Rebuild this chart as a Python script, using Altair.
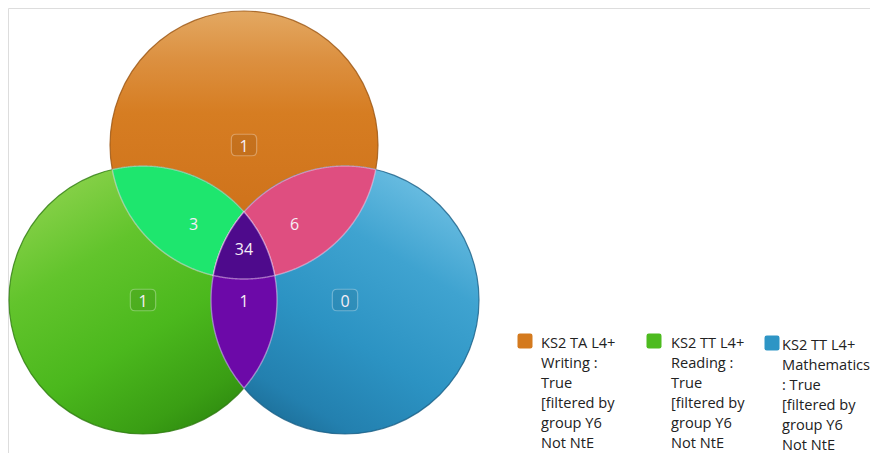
import math
import itertools
import pandas as pd
import altair as alt

# ---------------- data ----------------
set_keys = ["W", "R", "M"]
legend_labels = [
    "KS2 TA L4+\nWriting :\nTrue\n[filtered by\ngroup Y6\nNot NtE",
    "KS2 TT L4+\nReading :\nTrue\n[filtered by\ngroup Y6\nNot NtE",
    "KS2 TT L4+\nMathematics\n : True\n[filtered by\ngroup Y6\nNot NtE",
]
set_colors = ["#D47A1E", "#4DBB1F", "#2E95C5"]
region_keys = ["W", "R", "M", "WR", "WM", "RM", "WRM"]
region_counts = [1, 1, 0, 3, 6, 1, 34]
overlap_keys = ["WR", "WM", "RM", "WRM"]
overlap_colors = ["#1EE66E", "#DF4E80", "#6C09A8", "#4E0A8C"]

# ---------------- layout (pixels) ----------------
W, H = 862, 445
circle_cx = [236, 135, 337]
circle_cy = [137, 292, 292]
circle_r = 134
circle_stops = [
    [("#E3A862", 0.0), ("#DC9040", 0.18), ("#D67D22", 0.38), ("#D0741C", 0.7), ("#BC6415", 1.0)],
    [("#8ED34E", 0.0), ("#62C42C", 0.3), ("#4BB81D", 0.6), ("#3A9E14", 0.85), ("#2B850E", 1.0)],
    [("#72C2E5", 0.0), ("#3FA3D0", 0.3), ("#2C93C3", 0.6), ("#2380AF", 0.85), ("#1A6890", 1.0)],
]
circle_grad_dir = [(0.5, 0.0, 0.5, 1.0), (0.2, 0.0, 0.8, 1.0), (0.8, 0.0, 0.2, 1.0)]
circle_edge = ["#9A5410", "#2E7A10", "#1A5F86"]
legend_sq_x = [517, 646, 764]
legend_sq_y = [333, 333, 335]
legend_tx_x = [533, 663, 774]
legend_tx_y = [328, 328, 330]

X = alt.X("x:Q", scale=alt.Scale(domain=[0, W], nice=False, zero=False), axis=None)
Y = alt.Y("y:Q", scale=alt.Scale(domain=[0, H], reverse=True, nice=False, zero=False), axis=None)


def inside(p, idx, tol=0.01):
    return all(math.hypot(p[0] - circle_cx[j], p[1] - circle_cy[j]) <= circle_r + tol for j in idx)


def circle_pair_points(a, b):
    x0, y0, x1, y1 = circle_cx[a], circle_cy[a], circle_cx[b], circle_cy[b]
    d = math.hypot(x1 - x0, y1 - y0)
    aa = d / 2
    h = math.sqrt(max(circle_r ** 2 - aa ** 2, 0))
    mx, my = x0 + aa * (x1 - x0) / d, y0 + aa * (y1 - y0) / d
    return [(mx + h * (y1 - y0) / d, my - h * (x1 - x0) / d),
            (mx - h * (y1 - y0) / d, my + h * (x1 - x0) / d)]


def region_polygon(idx, n=1440):
    pts = []
    for i in idx:
        others = [j for j in idx if j != i]
        for k in range(n):
            t = 2 * math.pi * k / n
            p = (circle_cx[i] + circle_r * math.cos(t), circle_cy[i] + circle_r * math.sin(t))
            if inside(p, others):
                pts.append(p)
    for a, b in itertools.combinations(idx, 2):
        for p in circle_pair_points(a, b):
            if inside(p, idx, tol=0.5):
                pts.append(p)
    mx = sum(p[0] for p in pts) / len(pts)
    my = sum(p[1] for p in pts) / len(pts)
    pts.sort(key=lambda p: math.atan2(p[1] - my, p[0] - mx))
    return pd.DataFrame({"x": [p[0] for p in pts], "y": [p[1] for p in pts], "i": range(len(pts))})


layers = []

# circles (vega symbol size is the area of the bounding square)
for i in range(3):
    gx1, gy1, gx2, gy2 = circle_grad_dir[i]
    grad = alt.Gradient(
        gradient="linear", x1=gx1, y1=gy1, x2=gx2, y2=gy2,
        stops=[alt.GradientStop(color=c, offset=o) for c, o in circle_stops[i]],
    )
    df = pd.DataFrame({"x": [circle_cx[i]], "y": [circle_cy[i]], "set": [set_keys[i]]})
    layers.append(
        alt.Chart(df).mark_circle(
            size=(2 * circle_r) ** 2, opacity=1, fill=grad,
            stroke=circle_edge[i], strokeWidth=1.2, strokeOpacity=0.8,
        ).encode(x=X, y=Y)
    )

# overlaps
for key, col in zip(overlap_keys, overlap_colors):
    idx = [set_keys.index(c) for c in key]
    df = region_polygon(idx)
    layers.append(
        alt.Chart(df).mark_line(
            interpolate="linear-closed", fill=col, fillOpacity=1,
            stroke="#F2D4F0", strokeOpacity=0.5, strokeWidth=1.4,
        ).encode(x=X, y=Y, order="i:Q")
    )

# labels
lab_x, lab_y = [], []
for key in region_keys:
    idx = [set_keys.index(c) for c in key]
    lab_x.append(sum(circle_cx[j] for j in idx) / len(idx))
    lab_y.append(sum(circle_cy[j] for j in idx) / len(idx))
labels = pd.DataFrame({"x": lab_x, "y": lab_y, "count": region_counts, "key": region_keys,
                       "single": [len(k) == 1 for k in region_keys]})

badge_path = ("M-0.62,-0.85 L0.62,-0.85 Q1,-0.85 1,-0.47 L1,0.47 Q1,0.85 0.62,0.85 "
              "L-0.62,0.85 Q-1,0.85 -1,0.47 L-1,-0.47 Q-1,-0.85 -0.62,-0.85 Z")
layers.append(
    alt.Chart(labels).transform_filter("datum.single").mark_point(
        shape=badge_path, size=640, filled=True, opacity=1,
        fill="#000000", fillOpacity=0.07, stroke="#FFFFFF", strokeOpacity=0.3, strokeWidth=1.2,
    ).encode(x=X, y=Y)
)
layers.append(
    alt.Chart(labels).mark_text(
        font="Open Sans", fontSize=16, color="#F6EEF6", baseline="middle", align="center", dy=2,
    ).encode(x=X, y=Y, text="count:Q")
)

# legend
leg = pd.DataFrame({"x": legend_sq_x, "y": legend_sq_y, "tx": legend_tx_x, "ty": legend_tx_y,
                    "label": legend_labels, "set": set_keys})
sq_path = ("M-0.7,-1 L0.7,-1 Q1,-1 1,-0.7 L1,0.7 Q1,1 0.7,1 L-0.7,1 Q-1,1 -1,0.7 "
           "L-1,-0.7 Q-1,-1 -0.7,-1 Z")
layers.append(
    alt.Chart(leg).mark_point(shape=sq_path, size=225, filled=True, opacity=1).encode(
        x=X, y=Y,
        color=alt.Color("set:N", scale=alt.Scale(domain=set_keys, range=set_colors), legend=None),
    )
)
layers.append(
    alt.Chart(leg).mark_text(
        font="Open Sans", fontSize=14.6, color="#222222", align="left", baseline="top",
        lineBreak="\n", lineHeight=20,
    ).encode(
        x=alt.X("tx:Q", scale=alt.Scale(domain=[0, W], nice=False, zero=False), axis=None),
        y=alt.Y("ty:Q", scale=alt.Scale(domain=[0, H], reverse=True, nice=False, zero=False), axis=None),
        text="label:N",
    )
)

chart = alt.layer(*layers).properties(
    width=W, height=H, padding=0, autosize=alt.AutoSizeParams(type="none"),
).configure_view(stroke="transparent", strokeWidth=0).configure(background="white")

chart.save("out.html", embed_options={"renderer": "svg", "actions": False})
